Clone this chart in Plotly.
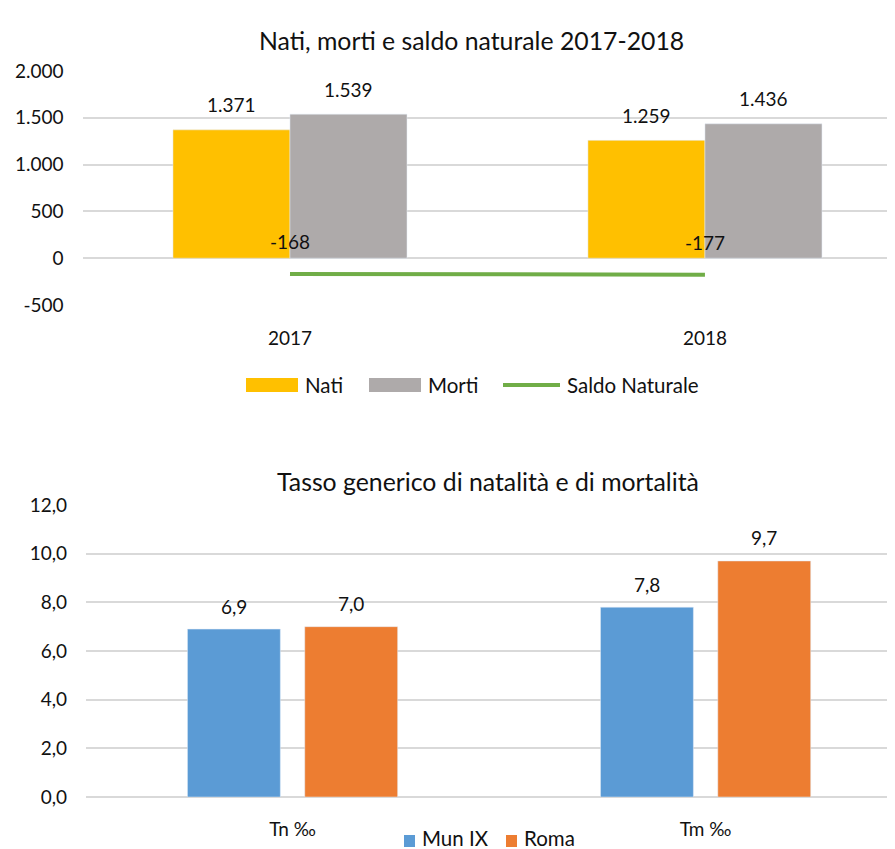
import plotly.graph_objects as go

# ---- data ----
years = ["2017", "2018"]
nati = [1371, 1259]
morti = [1539, 1436]
saldo = [-168, -177]
top_ticks = [-500, 0, 500, 1000, 1500, 2000]

rate_labels = ["Tn ‰", "Tm ‰"]
mun_ix = [6.9, 7.8]
roma = [7.0, 9.7]
bot_ticks = [0, 2, 4, 6, 8, 10, 12]

# ---- style ----
FONT = "Lato"
TXT = "#111111"
GRID = "#D9D9D9"
C_NATI = "#FFC000"
C_MORTI = "#AEAAAA"
C_SALDO = "#70AD47"
C_MUN = "#5B9BD5"
C_ROMA = "#ED7D31"
W, H = 895, 849
OFF = 8                      # page body margin
FW, FH = W - OFF, H - OFF    # figure size so that it fits the window
FS = 19      # numbers
FSL = 20.5   # words
FST = 24.8   # titles


def fmt_int(v):
    return f"{v:,.0f}".replace(",", ".")


def fmt_dec(v):
    return f"{v:.1f}".replace(".", ",")


def px_x(p):
    return (p - OFF) / FW


def px_y(p):
    return 1 - (p - OFF) / FH


fig = go.Figure()

xi = list(range(len(years)))
bw_top = 0.282
fig.add_trace(go.Bar(x=xi, y=nati, name="Nati", marker_color=C_NATI,
                     width=bw_top, offset=-bw_top, xaxis="x", yaxis="y",
                     showlegend=False))
fig.add_trace(go.Bar(x=xi, y=morti, name="Morti", marker_color=C_MORTI,
                     width=bw_top, offset=0, xaxis="x", yaxis="y",
                     showlegend=False))
fig.add_trace(go.Scatter(x=xi, y=saldo, name="Saldo Naturale", mode="lines",
                         line=dict(color=C_SALDO, width=4), xaxis="x", yaxis="y",
                         showlegend=False))

ri = list(range(len(rate_labels)))
bw_bot = 0.2249
fig.add_trace(go.Bar(x=ri, y=mun_ix, name="Mun IX", marker_color=C_MUN,
                     width=bw_bot, offset=-0.2544, xaxis="x2", yaxis="y2",
                     showlegend=False))
fig.add_trace(go.Bar(x=ri, y=roma, name="Roma", marker_color=C_ROMA,
                     width=bw_bot, offset=0.0296, xaxis="x2", yaxis="y2",
                     showlegend=False))

numfont = dict(size=FS, color=TXT, family=FONT)
ann = []
for i, v in enumerate(nati):
    ann.append(dict(x=i - bw_top / 2, y=v, xref="x", yref="y", text=fmt_int(v),
                    showarrow=False, yshift=25, font=numfont))
for i, v in enumerate(morti):
    ann.append(dict(x=i + bw_top / 2, y=v, xref="x", yref="y", text=fmt_int(v),
                    showarrow=False, yshift=25, font=numfont))
for i, v in enumerate(saldo):
    ann.append(dict(x=i, y=v, xref="x", yref="y", text=fmt_int(v),
                    showarrow=False, yshift=32, font=numfont))
for i, v in enumerate(mun_ix):
    ann.append(dict(x=i - 0.2544 + bw_bot / 2, y=v, xref="x2", yref="y2", text=fmt_dec(v),
                    showarrow=False, yshift=23, font=numfont))
for i, v in enumerate(roma):
    ann.append(dict(x=i + 0.0296 + bw_bot / 2, y=v, xref="x2", yref="y2", text=fmt_dec(v),
                    showarrow=False, yshift=23, font=numfont))

titlefont = dict(size=FST, color=TXT, family=FONT)
ann.append(dict(x=px_x(471), y=px_y(24), xref="paper", yref="paper",
                text="Nati, morti e saldo naturale 2017-2018", showarrow=False,
                font=titlefont))
ann.append(dict(x=px_x(488), y=px_y(481), xref="paper", yref="paper",
                text="Tasso generico di natalità e di mortalità", showarrow=False,
                font=titlefont))

# custom legends (swatch shapes + text) placed as in the reference
legfont = dict(size=FSL, color=TXT, family=FONT)
shapes = []


def add_legend(items, cy, half_h, text_y):
    for name, col, kind, x0, x1 in items:
        if kind == "rect":
            shapes.append(dict(type="rect", xref="paper", yref="paper",
                               x0=px_x(x0), x1=px_x(x1),
                               y0=px_y(cy + half_h), y1=px_y(cy - half_h),
                               fillcolor=col, line=dict(width=0)))
        else:
            shapes.append(dict(type="line", xref="paper", yref="paper",
                               x0=px_x(x0), x1=px_x(x1), y0=px_y(cy), y1=px_y(cy),
                               line=dict(color=col, width=4)))
        ann.append(dict(x=px_x(x1 + 5), y=px_y(text_y), xref="paper", yref="paper",
                        xanchor="left", yanchor="middle", text=name, showarrow=False,
                        font=legfont))


add_legend([("Nati", C_NATI, "rect", 246, 298),
            ("Morti", C_MORTI, "rect", 369, 421),
            ("Saldo Naturale", C_SALDO, "line", 503, 560)], 385, 7, 385)
add_legend([("Mun IX", C_MUN, "rect", 404, 415),
            ("Roma", C_ROMA, "rect", 506, 517)], 841, 6, 838)

fig.update_layout(
    width=FW, height=FH,
    margin=dict(l=0, r=0, t=0, b=0, autoexpand=False),
    paper_bgcolor="white", plot_bgcolor="white",
    separators=",.",
    barmode="overlay",
    showlegend=False,
    font=dict(family=FONT, color=TXT, size=FS),
    annotations=ann,
    shapes=shapes,
    xaxis=dict(domain=[px_x(82.5), 1], range=[-0.5, 1.458], tickvals=xi, ticktext=years,
               showgrid=False, zeroline=False, anchor="y", ticklabelstandoff=20,
               showline=False, ticks="", automargin=False, tickfont=numfont),
    yaxis=dict(domain=[px_y(305), px_y(71)], range=[-500, 2000],
               tickvals=top_ticks, ticktext=[fmt_int(t) for t in top_ticks],
               showgrid=True, gridcolor=GRID, gridwidth=1.5, zeroline=True,
               zerolinecolor=GRID, zerolinewidth=1.5, anchor="x", ticklabelstandoff=18,
               showline=False, ticks="", automargin=False, tickfont=numfont),
    xaxis2=dict(domain=[px_x(86), 1], range=[-0.5, 1.4586], tickvals=ri, ticktext=rate_labels,
                showgrid=False, zeroline=False, anchor="y2", ticklabelstandoff=19,
                showline=False, ticks="", automargin=False, tickfont=numfont),
    yaxis2=dict(domain=[px_y(797), px_y(505)], range=[0, 12],
                tickvals=bot_ticks, ticktext=[fmt_dec(t) for t in bot_ticks],
                showgrid=True, gridcolor=GRID, gridwidth=1.5, zeroline=True,
                zerolinecolor=GRID, zerolinewidth=1.5, anchor="x2", ticklabelstandoff=18,
                showline=False, ticks="", automargin=False, tickfont=numfont),
)

fig.write_html("out.html")
